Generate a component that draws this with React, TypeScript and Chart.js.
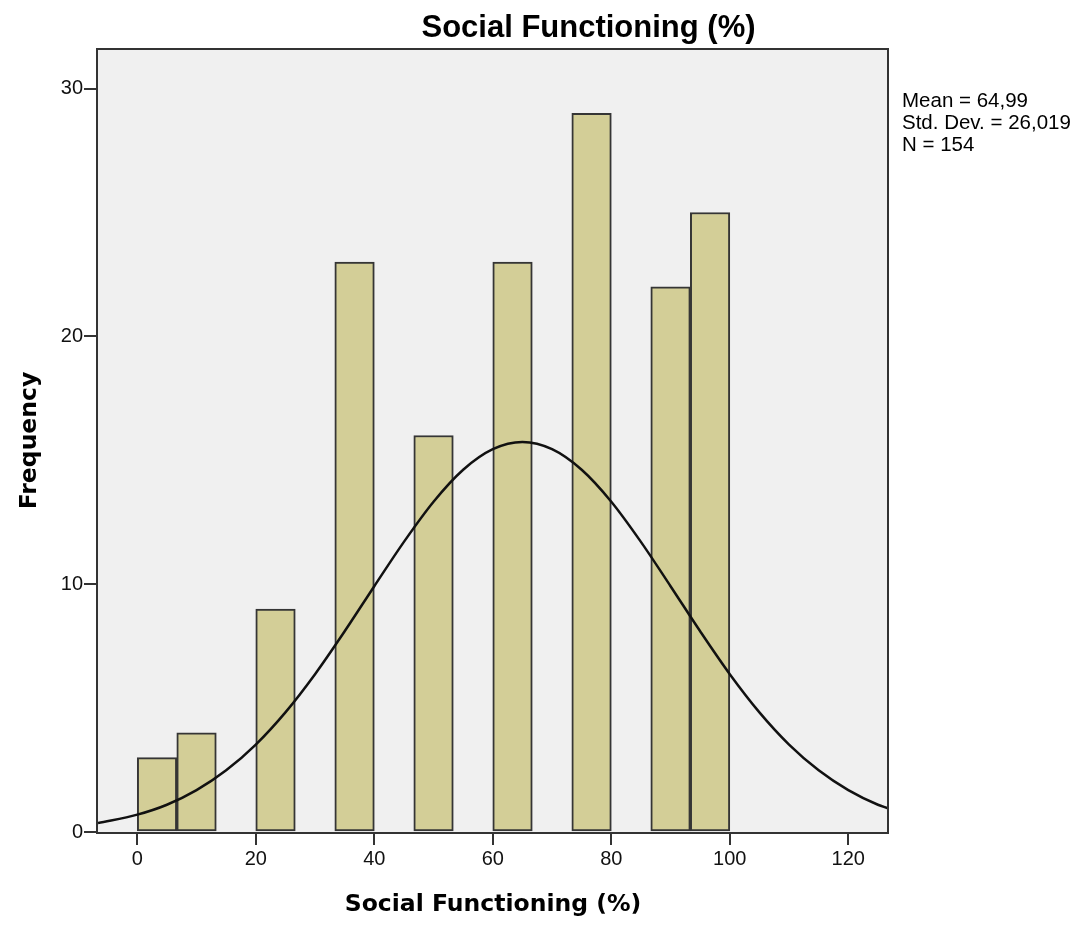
import { useEffect, useRef } from "react";
import { Chart, registerables } from "chart.js";

Chart.register(...registerables);

// Histogram bins (centres of each bin, width = 100/15) and frequencies
const binCenters = [3.33, 10, 23.33, 36.67, 50, 63.33, 76.67, 90, 96.67];
const frequencies = [3, 4, 9, 23, 16, 23, 29, 22, 25];

// Normal curve points
const curveX = [-6.63, 0, 5, 10, 15, 20, 25, 30, 35, 40, 45, 50, 55, 60, 65, 70, 75, 80, 85, 90, 95, 100, 105, 110, 115, 120, 125, 126.7];
const curveY = [0.36, 0.7, 1.1, 1.69, 2.49, 3.53, 4.83, 6.37, 8.1, 9.92, 11.71, 13.33, 14.62, 15.45, 15.74, 15.45, 14.62, 13.33, 11.71, 9.92, 8.1, 6.37, 4.83, 3.53, 2.49, 1.69, 1.1, 0.96];

const xTickValues = [0, 20, 40, 60, 80, 100, 120];
const yTickValues = [0, 10, 20, 30];
const xRange = [-6.63, 126.7];
const yRange = [0, 31.6];

const chartTitle = "Social Functioning (%)";
const xTitle = "Social Functioning (%)";
const yTitle = "Frequency";
const statsLines = ["Mean = 64,99", "Std. Dev. = 26,019", "N = 154"];

const SANS = "'Liberation Sans', Arial, sans-serif";
const WIDE = "'DejaVu Sans', Verdana, sans-serif";

const decorPlugin = {
  id: "decor",
  beforeDraw(chart: any) {
    const { ctx, chartArea: a } = chart;
    ctx.save();
    ctx.fillStyle = "#f0f0f0";
    ctx.fillRect(a.left, a.top, a.right - a.left, a.bottom - a.top);
    ctx.restore();
  },
  afterDatasetsDraw(chart: any) {
    const { ctx, chartArea: a } = chart;
    ctx.save();
    ctx.strokeStyle = "#333333";
    ctx.lineWidth = 2;
    ctx.strokeRect(a.left - 1, a.top, a.right - a.left + 1, a.bottom - a.top + 1);
    ctx.restore();
  },
  afterDraw(chart: any) {
    const { ctx, chartArea: a } = chart;
    ctx.save();
    ctx.fillStyle = "#000";
    ctx.textBaseline = "middle";
    ctx.textAlign = "center";
    ctx.font = `bold 31px ${SANS}`;
    ctx.fillText(chartTitle, (a.left + chart.width) / 2, 28);
    ctx.textAlign = "left";
    ctx.font = `20.5px ${SANS}`;
    statsLines.forEach((t, i) => {
      ctx.fillText(t, a.right + 14, 101 + i * 22);
    });
    ctx.restore();
  },
};

export default function App() {
  const ref = useRef<HTMLCanvasElement | null>(null);

  useEffect(() => {
    if (!ref.current) return;
    const chart = new Chart(ref.current, {
      type: "bar",
      data: {
        datasets: [
          {
            type: "line",
            label: "Normal",
            data: curveX.map((x, i) => ({ x, y: curveY[i] })),
            borderColor: "#111",
            borderWidth: 2.5,
            pointRadius: 0,
            fill: false,
            cubicInterpolationMode: "monotone",
            order: 0,
          } as any,
          {
            type: "bar",
            label: "Frequency",
            data: binCenters.map((x, i) => ({ x, y: frequencies[i] })),
            backgroundColor: "#d3ce97",
            borderColor: "#353535",
            borderWidth: 2,
            borderSkipped: false,
            barPercentage: 1,
            categoryPercentage: 1,
            order: 1,
          } as any,
        ],
      },
      options: {
        responsive: false,
        animation: false,
        devicePixelRatio: 1,
        layout: { padding: { top: 49, right: 191, left: 0, bottom: 0 } },
        plugins: {
          legend: { display: false },
          tooltip: { enabled: false },
          title: { display: false },
        },
        scales: {
          x: {
            type: "linear",
            offset: false,
            min: xRange[0],
            max: xRange[1],
            afterBuildTicks: (s: any) => {
              s.ticks = xTickValues.map((v) => ({ value: v }));
            },
            afterFit: (s: any) => {
              s.height = 93;
            },
            grid: {
              display: true,
              drawOnChartArea: false,
              drawTicks: true,
              tickLength: 13,
              color: "#333",
              lineWidth: 2,
              offset: false,
            },
            border: { display: false },
            ticks: {
              padding: 2,
              color: "#111",
              font: { family: SANS, size: 20 },
              maxRotation: 0,
            },
            title: {
              display: true,
              text: xTitle,
              color: "#000",
              font: { family: WIDE, size: 23.5, weight: "bold" },
              padding: { top: 0, bottom: 6 },
            },
          },
          y: {
            type: "linear",
            min: yRange[0],
            max: yRange[1],
            afterBuildTicks: (s: any) => {
              s.ticks = yTickValues.map((v) => ({ value: v }));
            },
            afterFit: (s: any) => {
              s.width = 98;
            },
            grid: {
              display: true,
              drawOnChartArea: false,
              drawTicks: true,
              tickLength: 14,
              color: "#333",
              lineWidth: 2,
            },
            border: { display: false },
            ticks: {
              padding: 1,
              color: "#111",
              font: { family: SANS, size: 20 },
            },
            title: {
              display: true,
              text: yTitle,
              color: "#000",
              font: { family: WIDE, size: 23.5, weight: "bold" },
              padding: { top: 16, bottom: 0 },
            },
          },
        },
      },
      plugins: [decorPlugin],
    } as any);
    return () => chart.destroy();
  }, []);

  return (
    <div style={{ position: "fixed", left: 0, top: 0, width: 1079, height: 925, background: "#fff" }}>
      <canvas ref={ref} width={1079} height={925} style={{ display: "block", width: 1079, height: 925 }} />
    </div>
  );
}
